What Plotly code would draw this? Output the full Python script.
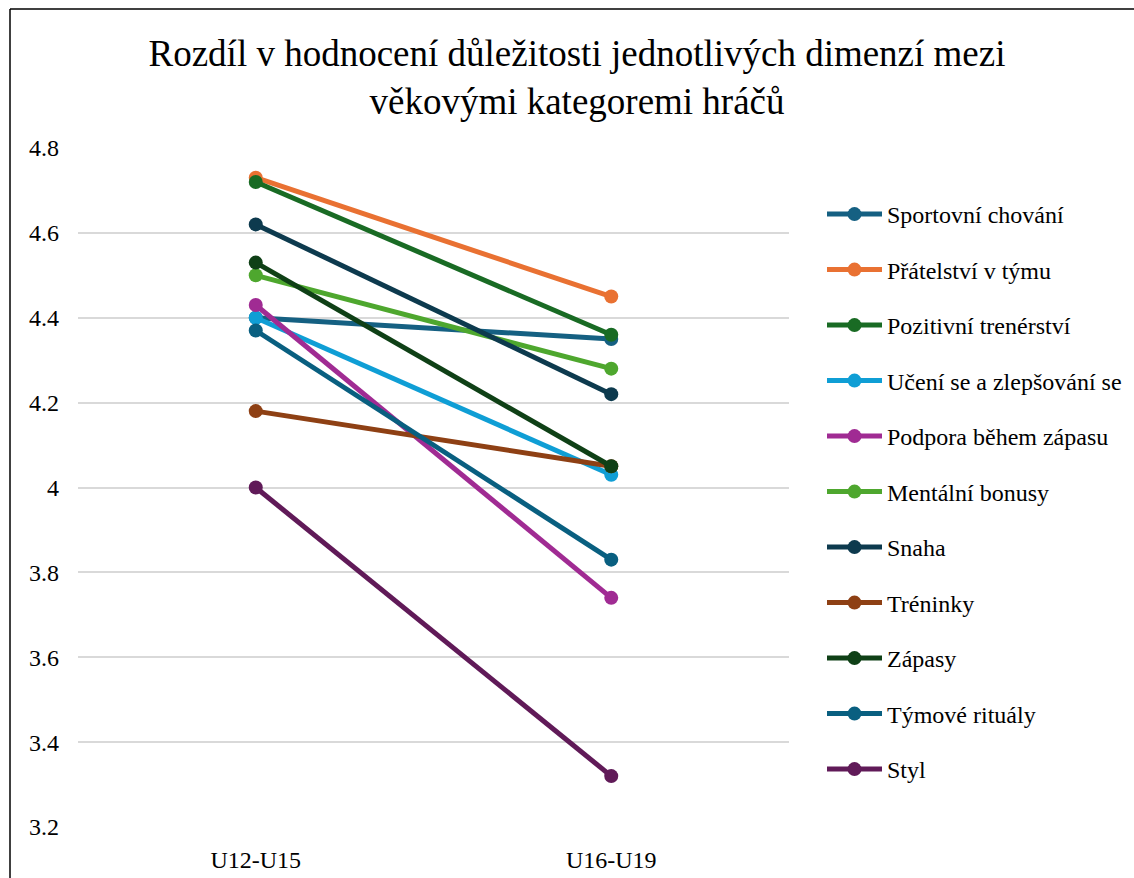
import plotly.graph_objects as go

# Age categories on the x axis
categories = ["U12-U15", "U16-U19"]

# Dimension names (legend order)
dimensions = [
    "Sportovní chování",
    "Přátelství v týmu",
    "Pozitivní trenérství",
    "Učení se a zlepšování se",
    "Podpora během zápasu",
    "Mentální bonusy",
    "Snaha",
    "Tréninky",
    "Zápasy",
    "Týmové rituály",
    "Styl",
]

# Mean importance ratings per age category
u12_u15 = [4.40, 4.73, 4.72, 4.40, 4.43, 4.50, 4.62, 4.18, 4.53, 4.37, 4.00]
u16_u19 = [4.35, 4.45, 4.36, 4.03, 3.74, 4.28, 4.22, 4.05, 4.05, 3.83, 3.32]

colors = [
    "#156082", "#E97132", "#196B24", "#0F9ED5", "#A02B93", "#4EA72E",
    "#0D3A4E", "#8E4014", "#0F4016", "#095F80", "#601A58",
]

y_ticks = [3.2, 3.4, 3.6, 3.8, 4.0, 4.2, 4.4, 4.6, 4.8]
y_tick_text = ["3.2", "3.4", "3.6", "3.8", "4", "4.2", "4.4", "4.6", "4.8"]

FONT = "Liberation Serif, DejaVu Serif, serif"

fig = go.Figure()
for name, a, b, c in zip(dimensions, u12_u15, u16_u19, colors):
    fig.add_trace(go.Scatter(
        x=categories,
        y=[a, b],
        name=name,
        legendgroup=name,
        mode="lines+markers",
        line=dict(color=c, width=5),
        marker=dict(color=c, size=14),
    ))

W, H = 1134, 878
ML, MR, MT, MB = 78, 345, 148, 51
pw, ph = W - ML - MR, H - MT - MB

fig.update_layout(
    width=W,
    height=H,
    margin=dict(l=ML, r=MR, t=MT, b=MB),
    paper_bgcolor="white",
    plot_bgcolor="white",
    font=dict(family=FONT, color="#000000", size=24),
    title=dict(
        text="Rozdíl v hodnocení důležitosti jednotlivých dimenzí mezi<br>věkovými kategoremi hráčů",
        font=dict(family=FONT, size=37, color="#000000"),
        x=577 / W,
        xanchor="center",
        xref="container",
        y=1 - 66 / H,
        yanchor="top",
        yref="container",
    ),
    showlegend=True,
    legend=dict(
        xref="container",
        yref="container",
        x=822 / W,
        xanchor="left",
        y=1 - 192 / H,
        yanchor="top",
        maxheight=800,
        font=dict(family=FONT, size=24, color="#000000"),
        tracegroupgap=21.3,
        itemwidth=55,
        bgcolor="rgba(0,0,0,0)",
    ),
    xaxis=dict(
        type="category",
        range=[-0.5, 1.5],
        automargin=False,
        showgrid=False,
        showline=False,
        zeroline=False,
        ticks="",
        ticklabelstandoff=16,
        tickfont=dict(family=FONT, size=24, color="#000000"),
    ),
    yaxis=dict(
        range=[3.2, 4.8],
        automargin=False,
        tickvals=y_ticks,
        ticktext=y_tick_text,
        showgrid=True,
        gridcolor="#D9D9D9",
        gridwidth=1.5,
        showline=False,
        zeroline=False,
        ticks="",
        ticklabelstandoff=18,
        tickfont=dict(family=FONT, size=24, color="#000000"),
    ),
    shapes=[
        # chart frame: top and left edges
        dict(type="line", xref="paper", yref="paper",
             x0=(10 - ML) / pw, x1=(W + 20 - ML) / pw,
             y0=1 + (MT - 9) / ph, y1=1 + (MT - 9) / ph,
             line=dict(color="#000000", width=1.5)),
        dict(type="line", xref="paper", yref="paper",
             x0=(10 - ML) / pw, x1=(10 - ML) / pw,
             y0=1 + (MT - 9) / ph, y1=-(MB + 20) / ph,
             line=dict(color="#000000", width=1.5)),
    ],
)

fig.write_html("out.html")
